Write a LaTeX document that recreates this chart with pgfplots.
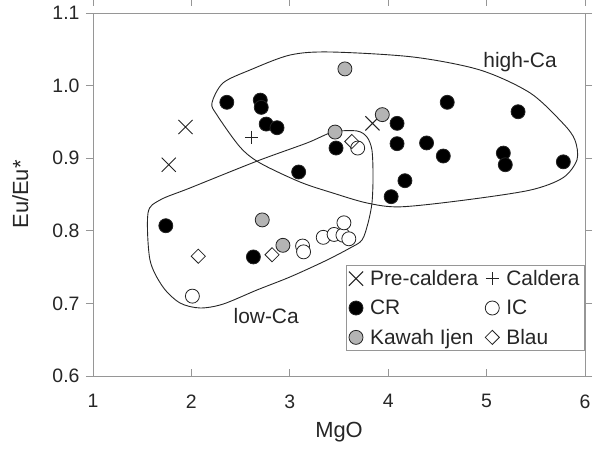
\documentclass[border=0pt]{standalone}
\usepackage{fontspec}
\setmainfont{Liberation Sans}
\usepackage{pgfplots}
\pgfplotsset{compat=1.18}
\definecolor{framec}{RGB}{150,150,150}
\definecolor{kgray}{RGB}{180,180,180}
\definecolor{mk}{RGB}{35,35,35}
\begin{document}
\begin{tikzpicture}
\begin{axis}[name=ax, scale only axis, width=492bp, height=363bp,
  xmin=1, xmax=6, ymin=0.6, ymax=1.1,
  xtick={1,2,3,4,5,6}, ytick={0.6,0.7,0.8,0.9,1.0,1.1},
  /pgf/number format/assume math mode=true,
  yticklabel style={/pgf/number format/fixed, /pgf/number format/fixed zerofill, /pgf/number format/precision=1, xshift=-3bp},
  axis line style={framec, line width=0.8bp},
  tick style={framec, line width=0.8bp},
  tick align=outside, major tick length=7bp,
  xtick style={yshift=7bp},
  ticklabel style={font=\fontsize{19.5}{21}\selectfont, text=black!85},
  xticklabel style={yshift=-8bp},
  label style={font=\fontsize{22}{24}\selectfont, text=black!85},
  xlabel={MgO}, ylabel={Eu/Eu*},
  xlabel style={at={(axis description cs:0.5,-0.154)}, anchor=center},
  ylabel style={at={(axis description cs:-0.148,0.5)}, anchor=center},
  legend columns=2,
  legend cell align=left,
  legend style={at={(1,0.306)}, anchor=north east, draw=framec, line width=0.8bp,
    font=\fontsize{21}{23}\selectfont, text=black!85, inner sep=3bp, row sep=9bp,
    /tikz/every odd column/.append style={column sep=5bp},
    /tikz/every even column/.append style={column sep=5bp}},
  legend image code/.code={\draw[mark repeat=2,mark phase=2] plot coordinates {(0bp,0bp)(5bp,0bp)(10bp,0bp)};},
]
% outlines
\addplot[black!85, line width=0.9bp, smooth cycle, forget plot] coordinates {
 (4.120,0.833) (4.760,0.842) (5.441,0.856) (5.776,0.873) (5.919,0.898) (5.898,0.925)
 (5.776,0.948) (5.441,0.990) (4.933,1.0215) (4.252,1.0394) (3.409,1.0463) (3.002,1.0421)
 (2.596,1.0215) (2.321,1.0036) (2.209,0.976) (2.260,0.9595) (2.494,0.9154) (2.697,0.8934)
 (3.104,0.8672) (3.439,0.852) (3.785,0.8383)};
\addplot[black!85, line width=0.9bp, smooth cycle, forget plot] coordinates {
 (1.559,0.8245) (1.681,0.8424) (1.986,0.859) (2.667,0.896) (3.175,0.921) (3.439,0.936)
 (3.683,0.9375) (3.785,0.929) (3.835,0.911) (3.846,0.874) (3.835,0.8383) (3.795,0.8107)
 (3.734,0.7873) (3.612,0.7763) (3.358,0.7584) (3.002,0.7364) (2.667,0.7185) (2.321,0.699)
 (2.087,0.6937) (1.884,0.7006) (1.711,0.7226) (1.579,0.7598)};
% Pre-caldera
\addplot[only marks, mark=x, mark size=10bp, mark options={draw=mk, line width=1bp}] coordinates {
 (1.77,0.891) (1.94,0.943) (3.84,0.948)};
\addlegendentry{Pre-caldera}
% Caldera
\addplot[only marks, mark=+, mark size=6.5bp, mark options={draw=mk, line width=1bp}] coordinates {
 (2.61,0.929)};
\addlegendentry{Caldera}
% CR
\addplot[only marks, mark=*, mark size=7bp, mark options={draw=mk, fill=black, line width=0.8bp}] coordinates {
 (2.36,0.977) (2.70,0.980) (2.71,0.970) (2.76,0.947) (2.87,0.942) (3.09,0.881) (3.47,0.914)
 (4.09,0.948) (4.09,0.920) (4.39,0.921) (4.56,0.903) (4.60,0.977) (5.32,0.964) (5.17,0.907)
 (5.19,0.891) (5.78,0.895) (4.17,0.869) (4.03,0.847) (1.74,0.807) (2.63,0.764)};
\addlegendentry{CR}
% IC
\addplot[only marks, mark=*, mark size=7bp, mark options={draw=mk, fill=white, line width=0.8bp}] coordinates {
 (2.01,0.710) (3.13,0.779) (3.14,0.771) (3.34,0.791) (3.45,0.795) (3.54,0.794) (3.55,0.811)
 (3.60,0.789) (3.69,0.914)};
\addlegendentry{IC}
% Kawah Ijen
\addplot[only marks, mark=*, mark size=7bp, mark options={draw=mk, fill=kgray, line width=0.8bp}] coordinates {
 (3.56,1.023) (3.94,0.960) (3.46,0.936) (2.72,0.815) (2.93,0.780)};
\addlegendentry{Kawah Ijen}
% Blau
\addplot[only marks, mark=square, mark size=5bp, mark options={draw=mk, fill=white, line width=0.8bp, rotate=45}] coordinates {
 (2.07,0.765) (2.82,0.767) (3.63,0.923)};
\addlegendentry{Blau}
\node[font=\fontsize{21}{23}\selectfont, text=black!85] at (axis cs:5.34,1.0325) {high-Ca};
\node[font=\fontsize{21}{23}\selectfont, text=black!85] at (axis cs:2.76,0.683) {low-Ca};
\end{axis}
\pgfresetboundingbox
\path ([shift={(-93bp,-73bp)}]ax.south west) rectangle ([shift={(14bp,13bp)}]ax.north east);
\end{tikzpicture}
\end{document}
